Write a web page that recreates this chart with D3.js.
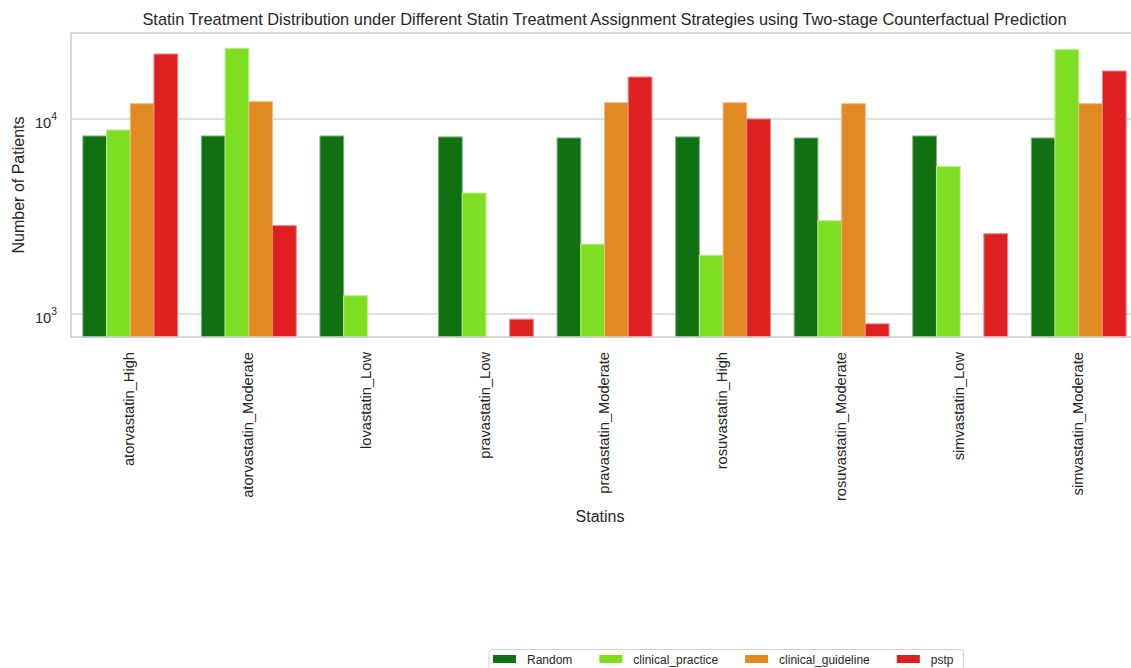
<!DOCTYPE html>
<html>
<head>
<meta charset="utf-8">
<script src="https://cdn.jsdelivr.net/npm/d3@7"></script>
<style>
  html, body { margin: 0; padding: 0; background: #fff; }
  svg { display: block; font-family: "Liberation Sans", Arial, sans-serif; }
</style>
</head>
<body>
<svg id="chart" width="1131" height="668"></svg>
<script>
// Statin groups on the x axis
const statins = [
  "atorvastatin_High", "atorvastatin_Moderate", "lovastatin_Low", "pravastatin_Low",
  "pravastatin_Moderate", "rosuvastatin_High", "rosuvastatin_Moderate",
  "simvastatin_Low", "simvastatin_Moderate"
];

// Assignment strategies (hue)
const strategies = ["Random", "clinical_practice", "clinical_guideline", "pstp"];
const strategyColors = ["#117011", "#7ede21", "#e08a21", "#de2021"];

// Patient counts per statin, one array per strategy (null = no patients)
const randomCounts    = [8180, 8180, 8180, 8090, 7990, 8090, 7990, 8180, 7990];
const practiceCounts  = [8780, 23050, 1240, 4170, 2280, 2000, 3010, 5700, 22750];
const guidelineCounts = [11980, 12270, null, null, 12130, 12130, 11980, null, 11980];
const pstpCounts      = [21540, 2840, null, 940, 16420, 10000, 890, 2580, 17620];

// Log-axis ticks
const yTicks = [1000, 10000];

const seriesValues = [randomCounts, practiceCounts, guidelineCounts, pstpCounts];

const svg = d3.select("#chart");
const margin = { left: 71, right: 1138, top: 33, bottom: 337 };
const textColor = "#262626";
const gridColor = "#d6d6d6";
const spineColor = "#cccccc";

const x = d3.scaleBand().domain(statins).range([margin.left, margin.right]).padding(0);
const xInner = d3.scaleBand().domain(strategies).range([0, x.bandwidth() * 0.8]);
const y = d3.scaleLog().domain([762, 27600]).range([margin.bottom, margin.top]);

// Horizontal grid lines
svg.append("g").selectAll("line").data(yTicks).join("line")
  .attr("x1", margin.left).attr("x2", margin.right)
  .attr("y1", d => y(d)).attr("y2", d => y(d))
  .attr("stroke", gridColor).attr("stroke-width", 1.5);

// Bars
const rows = [];
statins.forEach((s, i) => {
  strategies.forEach((k, j) => {
    const v = seriesValues[j][i];
    if (v != null && v > 0) rows.push({ statin: s, strategy: k, value: v, color: strategyColors[j] });
  });
});

svg.append("g").selectAll("rect").data(rows).join("rect")
  .attr("x", d => x(d.statin) + x.bandwidth() * 0.1 + xInner(d.strategy))
  .attr("width", xInner.bandwidth())
  .attr("y", d => y(d.value))
  .attr("height", d => margin.bottom - y(d.value))
  .attr("fill", d => d.color)
  .attr("stroke", d => d3.interpolateRgb(d.color, "#ffffff")(0.45))
  .attr("stroke-width", 1);

// Spines (left, bottom, top)
const spines = svg.append("g").attr("stroke", spineColor).attr("stroke-width", 1.5).attr("fill", "none");
spines.append("path")
  .attr("d", `M${margin.right},${margin.top}H${margin.left}V${margin.bottom}H${margin.right}`);

// Y tick labels with superscript exponent
const yAxis = svg.append("g").attr("fill", textColor).attr("font-size", 14.67);
yTicks.forEach(t => {
  const txt = yAxis.append("text")
    .attr("x", 57).attr("y", y(t) + 9)
    .attr("text-anchor", "end");
  txt.append("tspan").text("10");
  txt.append("tspan").attr("font-size", 10.3).attr("dy", -8).text(String(Math.round(Math.log10(t))));
});

// X tick labels, rotated
const xAxis = d3.axisBottom(x).tickSize(0).tickPadding(0);
const gx = svg.append("g").attr("transform", `translate(0,${margin.bottom})`).call(xAxis);
gx.select(".domain").remove();
gx.selectAll("text")
  .attr("fill", textColor)
  .attr("font-size", 14.67)
  .attr("font-family", "Liberation Sans, Arial, sans-serif")
  .attr("text-anchor", "end")
  .attr("dy", null)
  .attr("y", 0)
  .attr("transform", "translate(4,15) rotate(-90)");

// Axis titles
svg.append("text")
  .attr("x", 600).attr("y", 522)
  .attr("text-anchor", "middle").attr("font-size", 16).attr("fill", textColor)
  .text("Statins");

svg.append("text")
  .attr("transform", `translate(24,${(margin.top + margin.bottom) / 2}) rotate(-90)`)
  .attr("text-anchor", "middle").attr("font-size", 16).attr("fill", textColor)
  .text("Number of Patients");

// Chart title
svg.append("text")
  .attr("x", 604.5).attr("y", 25)
  .attr("text-anchor", "middle").attr("font-size", 16.4).attr("fill", textColor)
  .text("Statin Treatment Distribution under Different Statin Treatment Assignment Strategies using Two-stage Counterfactual Prediction");

// Legend
const legend = svg.append("g");
const legendBox = legend.append("rect")
  .attr("x", 489).attr("y", 649.5).attr("rx", 3)
  .attr("height", 30)
  .attr("fill", "#fff").attr("stroke", "#d0d0d0").attr("stroke-width", 1);

let lx = 493;
strategies.forEach((k, j) => {
  legend.append("rect")
    .attr("x", lx).attr("y", 655).attr("width", 23).attr("height", 8)
    .attr("fill", strategyColors[j]);
  const t = legend.append("text")
    .attr("x", lx + 34).attr("y", 663.5)
    .attr("font-size", 12).attr("fill", textColor)
    .text(k);
  const w = t.node().getComputedTextLength();
  lx = lx + 34 + w + (j < strategies.length - 1 ? 27 : 10);
});
legendBox.attr("width", lx - 489);
</script>
</body>
</html>
